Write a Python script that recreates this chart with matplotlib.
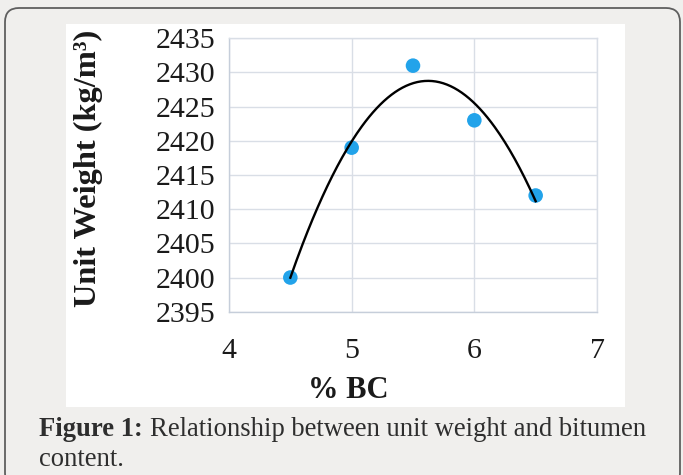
import matplotlib
matplotlib.use("Agg")
import matplotlib.pyplot as plt
from matplotlib.patches import FancyBboxPatch, Rectangle
from matplotlib.transforms import IdentityTransform
import numpy as np

# Data
bc_pct = [4.5, 5.0, 5.5, 6.0, 6.5]
unit_weight = [2400, 2419, 2431, 2423, 2412]
x_ticks = [4, 5, 6, 7]
y_ticks = [2395, 2400, 2405, 2410, 2415, 2420, 2425, 2430, 2435]

# Style
BG_COLOR = "#f0efed"
BORDER_COLOR = "#5f5f5f"
GRID_COLOR = "#d9dee6"
POINT_COLOR = "#22a3ea"
TEXT_COLOR = "#1a1a1a"
CAPTION_COLOR = "#2e2e2e"
SERIF = ["Liberation Serif", "DejaVu Serif"]
CAPTION_SIZE = 19.2

W, H = 683, 475
fig = plt.figure(figsize=(W / 100, H / 100), dpi=100)
fig.set_facecolor(BG_COLOR)

# card border and white chart panel (pixel coords, origin bottom-left)
border = FancyBboxPatch((5, -12), 675, 479, boxstyle="round,pad=0,rounding_size=14",
                        transform=IdentityTransform(), facecolor=BG_COLOR,
                        edgecolor=BORDER_COLOR, linewidth=1.3, zorder=-2)
fig.patches.append(border)
panel = Rectangle((66, H - 407), 559, 383, transform=IdentityTransform(),
                  facecolor="white", edgecolor="none", zorder=-1)
fig.patches.append(panel)

# axes box: x 229..597, y 38..312 (from top)
ax = fig.add_axes([229 / W, (H - 311.7) / H, 368 / W, 273.4 / H])
ax.set_facecolor("white")

ax.scatter(bc_pct, unit_weight, s=110, color=POINT_COLOR, edgecolors="none", zorder=3)

# polynomial (order 2) trendline
coef = np.polyfit(bc_pct, unit_weight, 2)
xs = np.linspace(min(bc_pct), max(bc_pct), 200)
ax.plot(xs, np.polyval(coef, xs), color="black", linewidth=1.7, zorder=4)

ax.set_xlim(4, 7)
ax.set_ylim(2395, 2435)
ax.set_xticks(x_ticks)
ax.set_yticks(y_ticks)
ax.grid(True, color=GRID_COLOR, linewidth=1.0)
ax.set_axisbelow(True)
for sp in ax.spines.values():
    sp.set_color(GRID_COLOR)
    sp.set_linewidth(1.0)
ax.spines["left"].set_color("#c6ceda")
ax.spines["bottom"].set_color("#c6ceda")
ax.tick_params(length=0, labelsize=21.5, labelcolor=TEXT_COLOR)
ax.tick_params(axis="x", pad=19)
ax.tick_params(axis="y", pad=10)
for lbl in ax.get_xticklabels() + ax.get_yticklabels():
    lbl.set_family(SERIF)

# axis titles
fig.text(348 / W, (H - 391) / H, "% BC", ha="center", va="center", fontsize=22,
         fontweight="bold", family=SERIF, color=TEXT_COLOR)
fig.text(88 / W, (H - 168) / H, "Unit Weight (kg/m³)", ha="center", va="center",
         rotation=90, fontsize=23.3, fontweight="bold", family=SERIF, color=TEXT_COLOR)

# caption
bold = fig.text(39 / W, (H - 436) / H, "Figure 1:", ha="left", va="baseline",
                fontsize=CAPTION_SIZE, fontweight="bold", family=SERIF, color=CAPTION_COLOR)
fig.canvas.draw()
bb = bold.get_window_extent()
fig.text((bb.x1 + 7) / W, (H - 436) / H, "Relationship between unit weight and bitumen",
         ha="left", va="baseline", fontsize=CAPTION_SIZE, family=SERIF, color=CAPTION_COLOR)
fig.text(39 / W, (H - 466) / H, "content.", ha="left", va="baseline", fontsize=CAPTION_SIZE,
         family=SERIF, color=CAPTION_COLOR)

fig.savefig("out.png", dpi=100, facecolor=fig.get_facecolor())
